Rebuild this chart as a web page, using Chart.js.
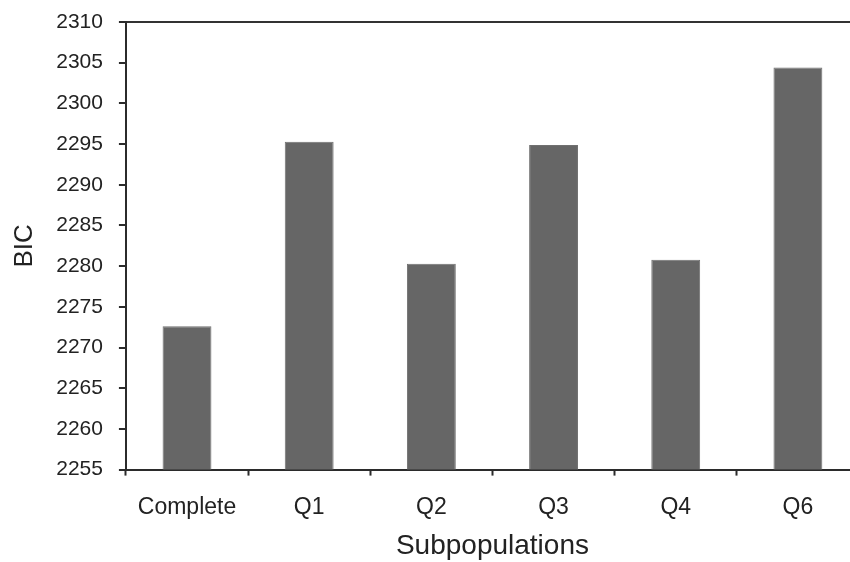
<!DOCTYPE html>
<html>
<head>
<meta charset="utf-8">
<script src="https://cdn.jsdelivr.net/npm/chart.js@4.4.1/dist/chart.umd.min.js"></script>
<style>
  html, body { margin: 0; padding: 0; background: #fff; overflow: hidden; }
  #wrap { width: 860px; height: 562px; position: relative; }
</style>
</head>
<body>
<div id="wrap"><canvas id="c" width="860" height="562"></canvas></div>
<script>
const categories = ["Complete", "Q1", "Q2", "Q3", "Q4", "Q6"];
const bicValues = [2272.6, 2295.3, 2280.3, 2294.9, 2280.8, 2304.4];
const yMin = 2255;
const yMax = 2310;
const yStep = 5;
const xTitle = "Subpopulations";
const yTitle = "BIC";

const axisColor = "#2b2b2b";
const textColor = "#222";
const fam = "'Liberation Sans', Arial, sans-serif";

new Chart(document.getElementById("c"), {
  type: "bar",
  data: {
    labels: categories,
    datasets: [{
      data: bicValues,
      backgroundColor: "#666666",
      borderColor: "#707070",
      borderWidth: 1,
      barPercentage: 0.4,
      categoryPercentage: 1.0
    }]
  },
  options: {
    responsive: false,
    animation: false,
    devicePixelRatio: 1,
    layout: { padding: { top: 22, right: 1, bottom: 0, left: 0 } },
    plugins: { legend: { display: false }, tooltip: { enabled: false } },
    scales: {
      x: {
        offset: true,
        border: { display: true, color: axisColor, width: 2 },
        grid: {
          offset: true,
          drawOnChartArea: false,
          drawTicks: true,
          tickLength: 6,
          tickColor: axisColor,
          tickWidth: 2
        },
        ticks: {
          color: textColor,
          font: { family: fam, size: 23 },
          padding: 18,
          maxRotation: 0
        },
        title: {
          display: true,
          text: xTitle,
          color: textColor,
          font: { family: fam, size: 28, lineHeight: 1.1 },
          padding: { top: -8, bottom: 0 }
        }
      },
      y: {
        min: yMin,
        max: yMax,
        afterFit: (scale) => { scale.paddingTop = 0; },
        border: { display: true, color: axisColor, width: 2 },
        grid: {
          drawOnChartArea: true,
          drawTicks: true,
          tickLength: 7,
          tickWidth: 2,
          tickColor: axisColor,
          lineWidth: 2,
          color: (ctx) => (ctx.tick && ctx.tick.value === yMax) ? "#333" : "rgba(0,0,0,0)"
        },
        ticks: {
          stepSize: yStep,
          color: textColor,
          font: { family: fam, size: 21 },
          padding: 16,
          callback: (v) => String(v)
        },
        title: {
          display: true,
          text: yTitle,
          color: textColor,
          font: { family: fam, size: 26 },
          padding: { top: 9, bottom: 0 }
        }
      }
    }
  }
});
</script>
</body>
</html>
